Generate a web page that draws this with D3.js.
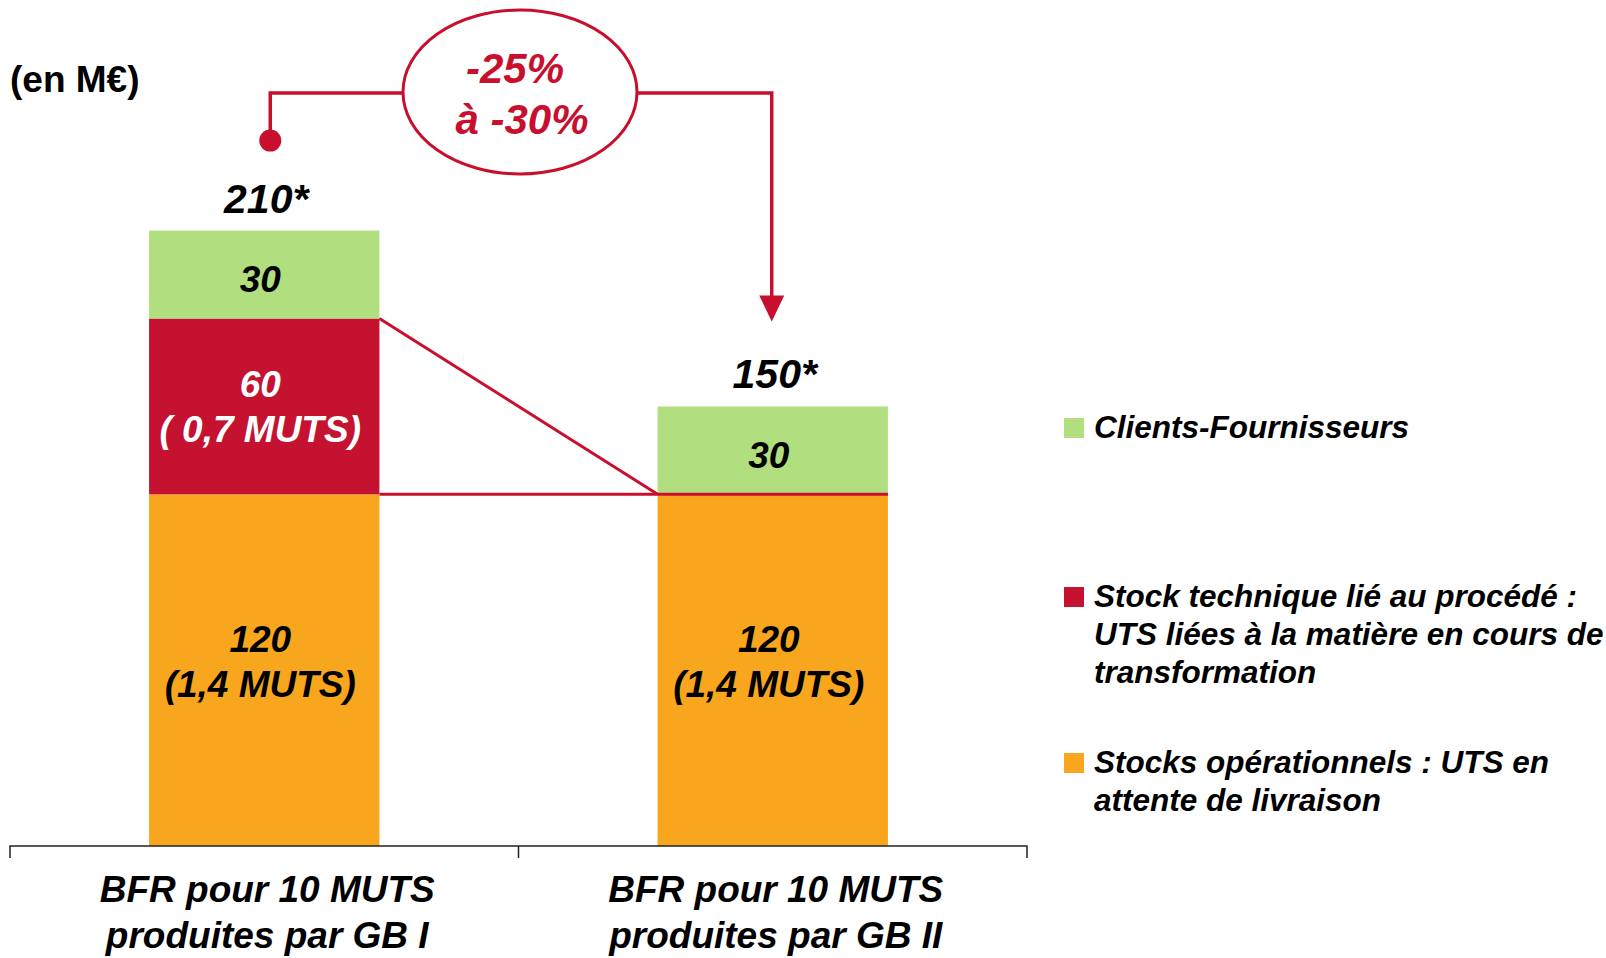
<!DOCTYPE html>
<html>
<head>
<meta charset="utf-8">
<script src="https://cdn.jsdelivr.net/npm/d3@7"></script>
<style>
  html, body { margin: 0; padding: 0; background: #fff; }
  svg { display: block; }
  text { font-family: "Liberation Sans", Arial, Helvetica, sans-serif; font-weight: bold; }
</style>
</head>
<body>
<svg id="chart" width="1606" height="958"></svg>
<script>
// ---------------- data ----------------
const categories = ["GB I", "GB II"];
const categoryLabels = [
  ["BFR pour 10 MUTS", "produites par GB I"],
  ["BFR pour 10 MUTS", "produites par GB II"]
];
const seriesKeys = ["operational", "technical", "clients"];
const seriesNames = ["Stocks opérationnels", "Stock technique", "Clients-Fournisseurs"];
const operationalStock = [120, 120];
const technicalStock = [60, 0];
const clientsSuppliers = [30, 30];
const totalLabels = ["210*", "150*"];
const operationalLabels = [["120", "(1,4 MUTS)"], ["120", "(1,4 MUTS)"]];
const technicalLabels = [["60", "( 0,7 MUTS)"], []];
const clientsLabels = [["30"], ["30"]];
const changeLabel = ["-25%", "à -30%"];
const unitLabel = "(en M€)";
const legendLabels = [
  ["Clients-Fournisseurs"],
  ["Stock technique lié au procédé :", "UTS liées à la matière en cours de", "transformation"],
  ["Stocks opérationnels : UTS en", "attente de livraison"]
];
const legendKeys = ["clients", "technical", "operational"];

// ---------------- styles ----------------
const colors = { operational: "#f8a61d", technical: "#c41230", clients: "#b1df80" };
const labelColors = { operational: "#000", technical: "#fff", clients: "#000" };
const accent = "#c8102e";

// ---------------- build ----------------
const table = categories.map((c, i) => ({
  category: c,
  operational: operationalStock[i],
  technical: technicalStock[i],
  clients: clientsSuppliers[i]
}));
const totals = table.map(d => d.operational + d.technical + d.clients);
const segLabels = { operational: operationalLabels, technical: technicalLabels, clients: clientsLabels };

const svg = d3.select("#chart");

const x = d3.scaleBand()
  .domain(categories)
  .range([10, 1027])
  .paddingInner(0.547)
  .paddingOuter(0.2735);

const y = d3.scaleLinear()
  .domain([0, d3.max(totals)])
  .range([846, 230.6]);

const stack = d3.stack().keys(seriesKeys);
const series = stack(table);

// bars
const gBars = svg.append("g");
series.forEach(s => {
  gBars.selectAll(null)
    .data(s.filter(d => d[1] - d[0] > 0))
    .join("rect")
    .attr("x", d => x(d.data.category))
    .attr("width", x.bandwidth())
    .attr("y", d => y(d[1]))
    .attr("height", d => y(d[0]) - y(d[1]))
    .attr("fill", colors[s.key]);
});

// connector lines (technical stock removed)
const bw = x.bandwidth();
const x0r = x(categories[0]) + bw;
const x1l = x(categories[1]);
const x1r = x(categories[1]) + bw;
const opTop = y(table[0].operational);
const techTop = y(table[0].operational + table[0].technical);
svg.append("line")
  .attr("x1", x0r).attr("y1", techTop)
  .attr("x2", x1l).attr("y2", y(table[1].operational))
  .attr("stroke", accent).attr("stroke-width", 3);
svg.append("line")
  .attr("x1", x0r).attr("y1", opTop)
  .attr("x2", x1r).attr("y2", y(table[1].operational))
  .attr("stroke", accent).attr("stroke-width", 3);

// segment labels
const lineGap = 45;
series.forEach(s => {
  s.forEach((d, i) => {
    const lines = segLabels[s.key][i];
    if (!lines || !lines.length || d[1] - d[0] <= 0) return;
    const top = y(d[1]), h = y(d[0]) - y(d[1]);
    const first = top + h * (lines.length === 1 ? 0.70 : 0.447);
    const t = svg.append("text")
      .attr("text-anchor", "middle")
      .attr("font-style", "italic")
      .attr("font-size", 37)
      .attr("fill", labelColors[s.key]);
    lines.forEach((ln, k) => {
      t.append("tspan")
        .attr("x", x(d.data.category) + bw / 2 - 4)
        .attr("y", first + k * lineGap)
        .text(ln);
    });
  });
});

// totals
svg.selectAll(".total")
  .data(table)
  .join("text")
  .attr("class", "total")
  .attr("x", (d, i) => x(d.category) + bw / 2 + 2)
  .attr("y", (d, i) => y(totals[i]) - 18)
  .attr("text-anchor", "middle")
  .attr("font-style", "italic")
  .attr("font-size", 41)
  .attr("fill", "#000")
  .text((d, i) => totalLabels[i]);

// axis
const axisY = y(0);
const bounds = [x.range()[0]].concat(categories.map(c => x(c) + bw + (x.step() - bw) / 2));
let axisPath = `M${bounds[0]},${axisY + 12}V${axisY}H${bounds[bounds.length - 1]}V${axisY + 12}`;
bounds.slice(1, -1).forEach(b => { axisPath += `M${b},${axisY}V${axisY + 12}`; });
svg.append("path").attr("d", axisPath).attr("fill", "none").attr("stroke", "#222").attr("stroke-width", 1.5);

// category labels
categories.forEach((c, i) => {
  const t = svg.append("text")
    .attr("text-anchor", "middle")
    .attr("font-style", "italic")
    .attr("font-size", 37)
    .attr("fill", "#000");
  categoryLabels[i].forEach((ln, k) => {
    t.append("tspan")
      .attr("x", x(c) + bw / 2 + 3)
      .attr("y", axisY + 56 + k * 46)
      .text(ln);
  });
});

// unit label
svg.append("text")
  .attr("x", 10).attr("y", 92)
  .attr("font-size", 37)
  .attr("fill", "#000")
  .text(unitLabel);

// change annotation
const cx0 = x(categories[0]) + bw / 2 + 6;
const cx1 = x(categories[1]) + bw / 2 - 1;
const annY = 93;
const ell = { cx: 520, cy: 92, rx: 117, ry: 82 };
svg.append("path")
  .attr("d", `M${cx0},${y(totals[0]) - 90}V${annY}H${ell.cx - ell.rx}`)
  .attr("fill", "none").attr("stroke", accent).attr("stroke-width", 3.5);
svg.append("circle")
  .attr("cx", cx0).attr("cy", y(totals[0]) - 90).attr("r", 11)
  .attr("fill", accent);
const tipY = y(totals[1]) - 85;
svg.append("path")
  .attr("d", `M${ell.cx + ell.rx},${annY}H${cx1}V${tipY - 24}`)
  .attr("fill", "none").attr("stroke", accent).attr("stroke-width", 3.5);
svg.append("path")
  .attr("d", `M${cx1 - 12.5},${tipY - 26}L${cx1 + 12.5},${tipY - 26}L${cx1},${tipY}Z`)
  .attr("fill", accent);
svg.append("ellipse")
  .attr("cx", ell.cx).attr("cy", ell.cy).attr("rx", ell.rx).attr("ry", ell.ry)
  .attr("fill", "#fff").attr("stroke", accent).attr("stroke-width", 3);
const ct = svg.append("text")
  .attr("text-anchor", "middle")
  .attr("font-style", "italic")
  .attr("font-size", 42)
  .attr("fill", accent);
changeLabel.forEach((ln, k) => {
  ct.append("tspan").attr("x", ell.cx - 5 + k * 7).attr("y", 83 + k * 51).text(ln);
});

// legend
const legendX = 1064;
const legendBaselines = [438, 607, 773];
legendKeys.forEach((key, i) => {
  const g = svg.append("g");
  g.append("rect")
    .attr("x", legendX).attr("y", legendBaselines[i] - 20)
    .attr("width", 20).attr("height", 20)
    .attr("fill", colors[key]);
  const t = g.append("text")
    .attr("font-style", "italic")
    .attr("font-size", 31.5)
    .attr("fill", "#000");
  legendLabels[i].forEach((ln, k) => {
    t.append("tspan").attr("x", legendX + 30).attr("y", legendBaselines[i] + k * 38).text(ln);
  });
});
</script>
</body>
</html>
